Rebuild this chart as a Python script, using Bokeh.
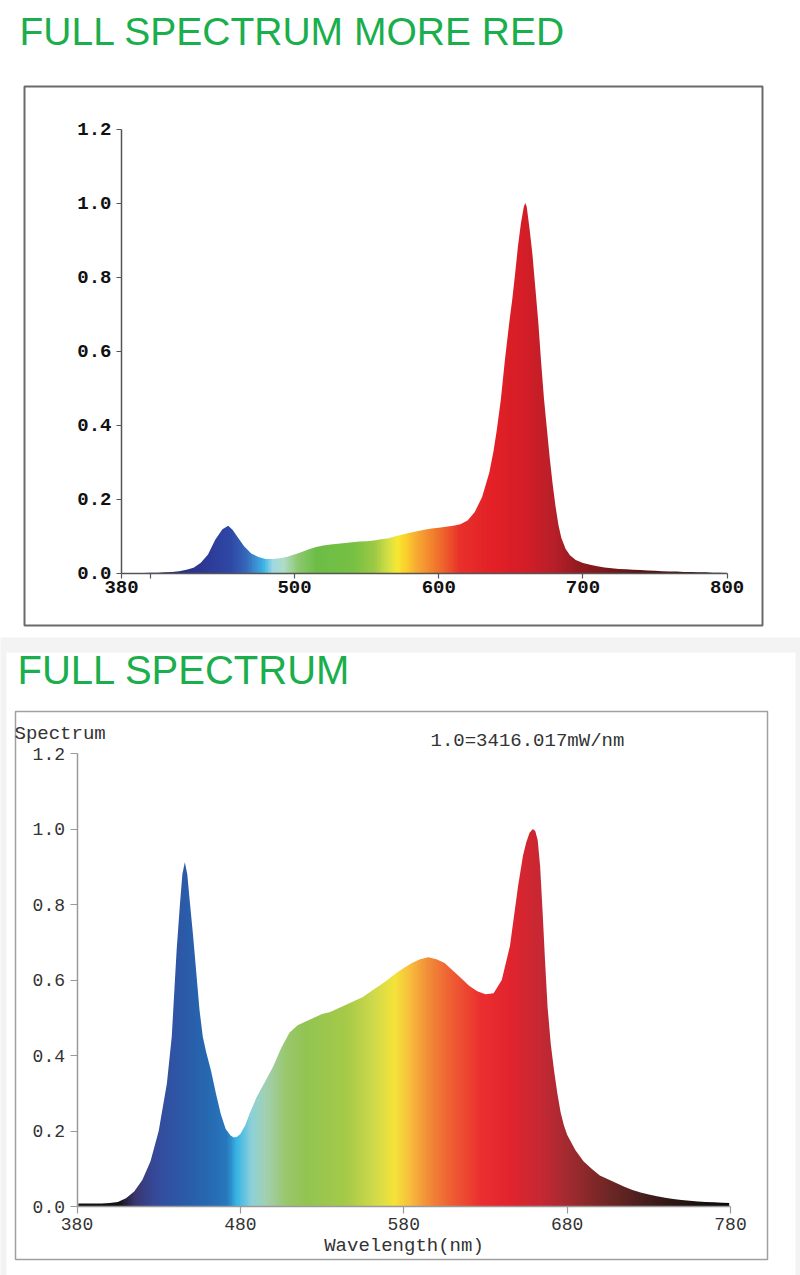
import numpy as np
from bokeh.plotting import figure
from bokeh.layouts import column
from bokeh.models import Range1d, FixedTicker, NumeralTickFormatter
from bokeh.core.properties import value
from bokeh.embed import file_html
from bokeh.resources import INLINE

# ---------------- data: top chart (FULL SPECTRUM MORE RED) ----------------
top_title = "FULL SPECTRUM MORE RED"
top_wl = [380, 385, 390, 395, 400, 405, 410, 415, 420, 425, 430, 435, 440, 445,
          450, 454, 457, 460, 465, 470, 475, 480, 485, 490, 495, 500, 505, 510,
          515, 520, 525, 530, 535, 540, 545, 550, 555, 560, 565, 570, 575, 580,
          585, 590, 595, 600, 605, 610, 615, 620, 625, 630, 635, 638, 640, 643,
          646, 649, 651, 653, 655, 657, 659, 660, 661, 663, 665, 667, 669, 671,
          673, 675, 677, 679, 681, 683, 685, 688, 691, 695, 700, 705, 710, 715,
          720, 725, 730, 735, 740, 745, 750, 755, 760, 765, 770, 775, 780, 785,
          790, 795, 800]
top_val = [0.000, 0.000, 0.000, 0.000, 0.001, 0.001, 0.002, 0.003, 0.005, 0.009,
           0.014, 0.028, 0.050, 0.090, 0.118, 0.128, 0.117, 0.100, 0.072, 0.053,
           0.043, 0.038, 0.038, 0.040, 0.044, 0.050, 0.057, 0.064, 0.070, 0.074,
           0.077, 0.079, 0.081, 0.083, 0.085, 0.086, 0.088, 0.091, 0.094, 0.099,
           0.104, 0.109, 0.113, 0.117, 0.120, 0.122, 0.125, 0.128, 0.132, 0.142,
           0.165, 0.205, 0.270, 0.330, 0.380, 0.466, 0.580, 0.680, 0.740, 0.810,
           0.885, 0.945, 0.990, 1.000, 0.990, 0.930, 0.860, 0.770, 0.680, 0.570,
           0.470, 0.390, 0.310, 0.240, 0.180, 0.130, 0.095, 0.065, 0.048, 0.035,
           0.027, 0.022, 0.018, 0.015, 0.013, 0.011, 0.010, 0.009, 0.008, 0.007,
           0.006, 0.005, 0.004, 0.004, 0.003, 0.003, 0.002, 0.002, 0.001, 0.001,
           0.000]
top_xticks = [380, 400, 500, 600, 700, 800]
top_xtick_labels = ["380", "", "500", "600", "700", "800"]
top_yticks = [0.0, 0.2, 0.4, 0.6, 0.8, 1.0, 1.2]
top_stop_nm = [380, 420, 440, 455, 465, 472, 478, 484, 492, 502, 515, 540, 555,
               565, 571, 577, 585, 595, 605, 615, 640, 660, 680, 700, 740, 800]
top_stop_col = ["#1a1a5a", "#2a2f85", "#2d3b99", "#2f48a6", "#3565b8", "#3a8fd0",
                "#3cb4e6", "#9fd8e4", "#b0dcc8", "#8cc86e", "#6cbd46", "#76c043",
                "#9cc944", "#d6df45", "#f6e832", "#fbcf2c", "#f7a832", "#f2832e",
                "#ee5b2b", "#e8302a", "#e21f26", "#d41e27", "#b81f29", "#8e1a20",
                "#5c1616", "#2a0c0c"]

# ---------------- data: bottom chart (FULL SPECTRUM) ----------------
bot_title = "FULL SPECTRUM"
bot_ylabel = "Spectrum"
bot_note = "1.0=3416.017mW/nm"
bot_xlabel = "Wavelength(nm)"
bot_wl = [380, 385, 390, 395, 400, 405, 410, 415, 420, 425, 430, 435, 438, 441,
          443, 444.5, 446, 447.5, 449, 451, 453, 455, 457, 459, 462, 465, 468,
          471, 474, 476, 478, 480, 483, 486, 490, 495, 500, 505, 510, 515, 520,
          525, 530, 535, 540, 545, 550, 555, 560, 565, 570, 575, 580, 585, 590,
          595, 600, 605, 610, 615, 620, 625, 630, 635, 640, 645, 650, 653, 655,
          657, 659, 660.5, 662, 663.5, 665, 666.5, 668, 670, 672, 674, 676, 678,
          680, 685, 690, 695, 700, 705, 710, 715, 720, 725, 730, 735, 740, 745,
          750, 755, 760, 765, 770, 775, 780]
bot_val = [0.008, 0.008, 0.008, 0.008, 0.009, 0.012, 0.022, 0.040, 0.070, 0.120,
           0.200, 0.325, 0.450, 0.680, 0.800, 0.880, 0.912, 0.880, 0.810, 0.720,
           0.620, 0.520, 0.450, 0.410, 0.360, 0.300, 0.245, 0.205, 0.188, 0.183,
           0.185, 0.192, 0.215, 0.250, 0.290, 0.330, 0.370, 0.420, 0.460, 0.480,
           0.490, 0.500, 0.510, 0.515, 0.525, 0.535, 0.545, 0.555, 0.570, 0.585,
           0.600, 0.617, 0.632, 0.645, 0.655, 0.660, 0.655, 0.645, 0.625, 0.605,
           0.585, 0.570, 0.562, 0.565, 0.600, 0.690, 0.850, 0.930, 0.965, 0.990,
           1.000, 0.995, 0.970, 0.900, 0.780, 0.650, 0.530, 0.430, 0.360, 0.300,
           0.250, 0.215, 0.190, 0.150, 0.120, 0.100, 0.082, 0.072, 0.062, 0.052,
           0.044, 0.037, 0.032, 0.027, 0.023, 0.020, 0.017, 0.015, 0.013, 0.012,
           0.011, 0.010, 0.009]
bot_xticks = [380, 480, 580, 680, 780]
bot_xtick_labels = ["380", "480", "580", "680", "780"]
bot_yticks = [0.0, 0.2, 0.4, 0.6, 0.8, 1.0, 1.2]
bot_stop_nm = [380, 405, 414, 427, 439, 458, 471, 477, 486, 495, 508, 520, 545,
               561, 574, 583, 595, 608, 627, 645, 664, 680, 708, 733, 758, 780]
bot_stop_col = ["#111111", "#141418", "#3a3570", "#354a9a", "#2f55a5", "#2567b0",
                "#2878bd", "#38b5e5", "#8dd0da", "#a2d0b0", "#9ac66a", "#92c452",
                "#a6ca48", "#cfd94b", "#f4e33a", "#f7bf3d", "#f28b38", "#ee6133",
                "#eb2f30", "#e1242e", "#c72834", "#a32a30", "#6a2624", "#3e1c1a",
                "#1e1212", "#0a0a0a"]

assert len(top_wl) == len(top_val) and len(bot_wl) == len(bot_val)

GREEN = "#1aae4c"
MONO = "Liberation Mono"
SANS = "Liberation Sans"


def hex2rgb(h):
    return [int(h[i:i + 2], 16) for i in (1, 3, 5)]


def gradient_image(stop_nm, stop_col, lo, hi):
    nm = np.arange(lo, hi + 1, 1.0)
    rgb = np.array([hex2rgb(c) for c in stop_col], dtype=float)
    img = np.empty((1, len(nm)), dtype=np.uint32)
    view = img.view(dtype=np.uint8).reshape((1, len(nm), 4))
    for k in range(3):
        view[0, :, k] = np.round(np.interp(nm, stop_nm, rgb[:, k])).astype(np.uint8)
    view[0, :, 3] = 255
    return img


def make_fig(W, H, x0px, x0val, xs, y0px, y0val, ys, bg):
    xr = Range1d(x0val - x0px / xs, x0val + (W - x0px) / xs)
    yr = Range1d(y0val - (H - y0px) / ys, y0val + y0px / ys)
    p = figure(width=W, height=H, x_range=xr, y_range=yr, output_backend="svg",
               toolbar_location=None, min_border=0, min_border_left=0,
               min_border_right=0, min_border_top=0, min_border_bottom=0)
    p.title.visible = False
    p.outline_line_color = None
    p.grid.visible = False
    p.background_fill_color = bg
    p.border_fill_color = bg
    fx = lambda px: xr.start + px / xs
    fy = lambda py: yr.end - py / ys
    return p, fx, fy


def draw_spectrum(p, wl, vals, stop_nm, stop_col, top):
    img = gradient_image(stop_nm, stop_col, wl[0], wl[-1])
    inset = 0.8
    p.image_rgba(image=[img], x=wl[0] + inset, y=0, dw=wl[-1] - wl[0] - 2 * inset, dh=top)
    p.varea(x=wl, y1=vals, y2=top + 0.05, fill_color="white", fill_alpha=1.0)


def style_axes(p, xticks, xlabels, yticks, xb, yb, bold, size, col, line_col, tick_out, ystand, xstand):
    p.xaxis.fixed_location = 0
    p.yaxis.fixed_location = xb[0]
    p.xaxis.bounds = xb
    p.yaxis.bounds = yb
    p.xaxis.ticker = FixedTicker(ticks=xticks)
    p.xaxis.major_label_overrides = {t: l for t, l in zip(xticks, xlabels)}
    p.yaxis.ticker = FixedTicker(ticks=yticks)
    p.yaxis.formatter = NumeralTickFormatter(format="0.0")
    for ax in (p.xaxis, p.yaxis):
        ax.minor_tick_line_color = None
        ax.axis_line_color = line_col
        ax.axis_line_width = 1.5
        ax.major_tick_line_color = line_col
        ax.major_tick_line_width = 1.2
        ax.major_tick_out = tick_out
        ax.major_tick_in = 0
        ax.major_label_text_font = MONO
        ax.major_label_text_font_size = size
        ax.major_label_text_font_style = "bold" if bold else "normal"
        ax.major_label_text_color = col
    p.yaxis.major_label_standoff = ystand
    p.xaxis.major_label_standoff = xstand


# ---------------- top figure ----------------
W = 800
H1 = 637
p1, fx1, fy1 = make_fig(W, H1, 121, 380, 1.442, 572.5, 0.0, 370.0, "white")
draw_spectrum(p1, top_wl, top_val, top_stop_nm, top_stop_col, 1.02)
p1.quad(left=fx1(24), right=fx1(762), top=fy1(86), bottom=fy1(625),
        fill_alpha=0, line_color="#6a6a6a", line_width=2)
p1.text(x=[fx1(19)], y=[fy1(31)], text=[top_title], text_font=value(SANS),
        text_font_size="39px", text_color=GREEN, text_baseline="alphabetic",
        text_align="left")
style_axes(p1, top_xticks, top_xtick_labels, top_yticks, (380, 800), (0, 1.2),
           True, "19px", "#111111", "#555555", 5, 5, 3)

# ---------------- bottom figure ----------------
H2 = 1275 - H1
p2, fx2, fy2 = make_fig(W, H2, 76.5, 380, 1.63375, 569, 0.0, 377.5, "#f3f3f3")
p2.quad(left=fx2(6), right=fx2(795), top=fy2(15), bottom=fy2(H2 + 2),
        fill_color="white", line_color=None)
draw_spectrum(p2, bot_wl, bot_val, bot_stop_nm, bot_stop_col, 1.02)
p2.quad(left=fx2(15), right=fx2(767), top=fy2(74), bottom=fy2(622),
        fill_alpha=0, line_color="#a0a0a0", line_width=1.5)
p2.text(x=[fx2(17)], y=[fy2(32)], text=[bot_title], text_font=value(SANS),
        text_font_size="40px", text_color=GREEN, text_baseline="alphabetic",
        text_align="left")
p2.text(x=[fx2(14)], y=[fy2(96)], text=[bot_ylabel], text_font=value(MONO),
        text_font_size="19px", text_color="#333333", text_baseline="alphabetic",
        text_align="left")
p2.text(x=[fx2(430)], y=[fy2(103)], text=[bot_note], text_font=value(MONO),
        text_font_size="19px", text_color="#333333", text_baseline="alphabetic",
        text_align="left")
style_axes(p2, bot_xticks, bot_xtick_labels, bot_yticks, (380, 780), (0, 1.2),
           False, "18px", "#333333", "#9a9a9a", 7, 5, 4)
p2.xaxis.axis_label = bot_xlabel
p2.xaxis.axis_label_text_font = MONO
p2.xaxis.axis_label_text_font_size = "19px"
p2.xaxis.axis_label_text_font_style = "normal"
p2.xaxis.axis_label_text_color = "#333333"
p2.xaxis.axis_label_standoff = 2

layout = column(p1, p2, spacing=0)
open("out.html", "w").write(file_html(layout, INLINE))
